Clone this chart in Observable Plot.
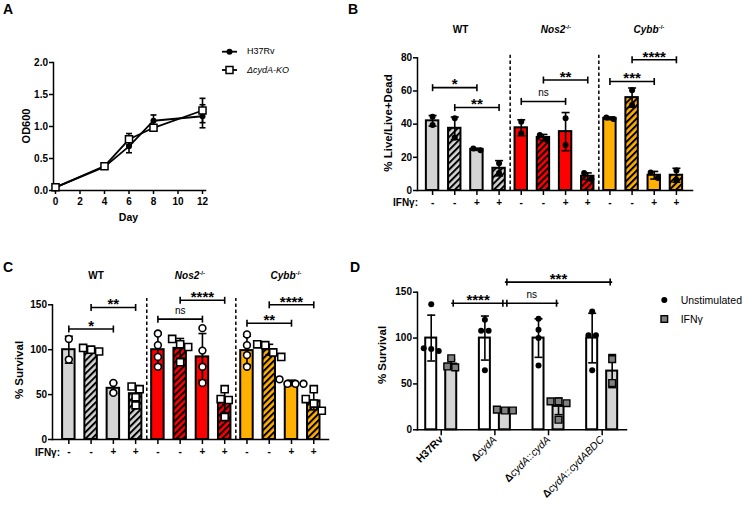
<!DOCTYPE html>
<html>
<head>
<meta charset="utf-8">
<script src="https://cdn.jsdelivr.net/npm/d3@7"></script>
<script src="https://cdn.jsdelivr.net/npm/@observablehq/plot@0.6"></script>
<style>
html,body{margin:0;padding:0;background:#fff;}
#fig{position:relative;width:745px;height:506px;overflow:hidden;font-family:"Liberation Sans",Arial,Helvetica,sans-serif;color:#000;}
#fig svg{position:absolute;}
.lbl{position:absolute;white-space:nowrap;}
.lbl sup{font-size:0.62em;position:relative;top:-0.55em;vertical-align:baseline;line-height:0;}
</style>
</head>
<body>
<div id="fig"></div>
<script>
// ---------------- DATA ----------------
// Panel A: growth curve
const daysA = [0, 4, 6, 8, 12];
const h37rvOD = [0.05, 0.37, 0.69, 1.09, 1.16];
const h37rvSD = [0.02, 0.03, 0.10, 0.09, 0.18];
const cydKoOD = [0.05, 0.38, 0.80, 0.98, 1.25];
const cydKoSD = [0.02, 0.03, 0.09, 0.03, 0.19];
const dayTicks = [0, 2, 4, 6, 8, 10, 12];
const odTicks = [0, 0.5, 1, 1.5, 2];

// Panels B & C: 12 bars (host x strain x IFNg)
const hostGroups = ["WT", "Nos2", "Cybb"];
const barHost = ["WT","WT","WT","WT","Nos2","Nos2","Nos2","Nos2","Cybb","Cybb","Cybb","Cybb"];
const barStrain = ["H37Rv","ΔcydA","H37Rv","ΔcydA","H37Rv","ΔcydA","H37Rv","ΔcydA","H37Rv","ΔcydA","H37Rv","ΔcydA"];
const barIFNg = ["-","-","+","+","-","-","+","+","-","-","+","+"];

// Panel B: % Live/Live+Dead
const liveMean = [42, 37.5, 24.8, 13.4, 37.8, 32, 35.5, 8.6, 43.5, 56, 9.2, 9.2];
const liveSD = [3.2, 6.8, 0.6, 4.6, 4.8, 1.8, 11.5, 2, 0.8, 5.8, 2.3, 4.2];
const livePts = [[44.5,39.5],[43.5,32],[24.3,25.3],[16.5,10.5],[41.5,34.5],[33.5,30.5],[43.5,27.5],[10.5,6.8],[44,43.1],[60.5,51.5],[10.8,7.5],[12,6.5]];
const liveTicks = [0, 20, 40, 60, 80];
const liveSigFrom = [0, 1, 4, 5, 8, 9];
const liveSigTo = [2, 3, 6, 7, 10, 11];
const liveSigY = [62, 50, 53.7, 66.6, 65.7, 78.8];
const liveSigLabel = ["*", "**", "ns", "**", "***", "****"];

// Panel C: % Survival
const survMean = [100, 100, 57, 51, 100, 101.5, 92, 42.5, 99, 100, 63, 43];
const survSD = [15, 2, 6, 9, 17, 11, 26, 13, 16, 6, 3, 10];
const survPts = [[112,89],[98,100,102],[63,52],[59,56,47,38],[118,105,92,81],[112,106,103,86],[124,99,81,63],[56,45,44,25],[117,105,94,81],[105,106,97,92],[67,62,62,62],[56,45,40,32]];
const survTicks = [0, 50, 100, 150];
const survSigFrom = [0, 1, 4, 5, 8, 9];
const survSigTo = [2, 3, 6, 7, 10, 11];
const survSigY = [123, 147, 134, 155, 129.5, 150];
const survSigLabel = ["*", "**", "ns", "****", "**", "****"];

// Panel D
const strainsD = ["H37Rv", "ΔcydA", "ΔcydA::cydA", "ΔcydA::cydABDC"];
const unstimMean = [100, 100, 100, 100];
const unstimSD = [25, 24, 21, 27];
const unstimPts = [[137,89,88,86],[120,108,108,65],[121,109,100,70],[129,103,103,65]];
const ifngMean = [71.7, 21.5, 25.5, 64];
const ifngSD = [5, 1.5, 9, 18];
const ifngPts = [[78,69,68],[22,21,21],[31,31,29,11],[77,51]];
const dSigFrom = ["H37Rv", "ΔcydA", "ΔcydA"];
const dSigTo = ["ΔcydA", "ΔcydA::cydA", "ΔcydA::cydABDC"];
const dSigY = [138, 138, 161];
const dSigLabel = ["****", "ns", "***"];

// ---------------- STYLE ----------------
const FONT = '"Liberation Sans", Arial, Helvetica, sans-serif';
const ink = "#000";
const hostColor = {WT: "#d4d4d4", Nos2: "#ff0000", Cybb: "#ffb000"};
const baseStyle = {fontFamily: FONT, fontSize: "10px", fontWeight: "bold", background: "transparent", overflow: "visible", color: "#000"};
const fig = document.getElementById("fig");

const hline = {draw(ctx, size) { const r = Math.sqrt(size / Math.PI); ctx.moveTo(-r, 0); ctx.lineTo(r, 0); }};
const vline = {draw(ctx, size) { const r = Math.sqrt(size / Math.PI); ctx.moveTo(0, -r); ctx.lineTo(0, r); }};

function place(svg, left, top) { svg.style.left = left + "px"; svg.style.top = top + "px"; fig.appendChild(svg); }

function label(html, x, baseline, o = {}) {
  const size = o.size || 10;
  const d = document.createElement("div");
  d.className = "lbl";
  d.innerHTML = html;
  d.style.fontSize = size + "px";
  d.style.lineHeight = size + "px";
  d.style.fontWeight = o.weight || "bold";
  if (o.italic) d.style.fontStyle = "italic";
  d.style.left = x + "px";
  d.style.top = (baseline - 0.8465 * size) + "px";
  if (o.anchor === "middle") d.style.transform = "translateX(-50%)";
  if (o.anchor === "end") d.style.transform = "translateX(-100%)";
  fig.appendChild(d);
}
function vlabel(text, cx, cy, size) {
  const d = document.createElement("div");
  d.className = "lbl";
  d.textContent = text;
  d.style.fontSize = size + "px";
  d.style.lineHeight = size + "px";
  d.style.fontWeight = "bold";
  d.style.left = cx + "px";
  d.style.top = cy + "px";
  d.style.transform = "translate(-50%,-50%) rotate(-90deg)";
  fig.appendChild(d);
}
function addHatch(svg, id, color) {
  let defs = d3.select(svg).select("defs");
  if (defs.empty()) defs = d3.select(svg).insert("defs", ":first-child");
  const p = defs.append("pattern").attr("id", id).attr("patternUnits", "userSpaceOnUse")
    .attr("width", 4.6).attr("height", 4.6).attr("patternTransform", "rotate(45)");
  p.append("rect").attr("width", 4.6).attr("height", 4.6).attr("fill", color);
  p.append("line").attr("x1", 1).attr("y1", -1).attr("x2", 1).attr("y2", 6).attr("stroke", "#000").attr("stroke-width", 2);
}
// horizontal spread of replicate points that would overlap (like GraphPad scatter)
function spreadOffsets(vals, pxPerUnit, spacing) {
  const idx = vals.map((v, i) => i).sort((a, b) => vals[b] - vals[a]);
  const off = new Array(vals.length).fill(0);
  let cluster = [idx[0]];
  const flush = () => { const n = cluster.length; cluster.forEach((k, j) => off[k] = (j - (n - 1) / 2) * spacing); };
  for (let m = 1; m < idx.length; m++) {
    if ((vals[idx[m - 1]] - vals[idx[m]]) * pxPerUnit < spacing * 0.9) cluster.push(idx[m]);
    else { flush(); cluster = [idx[m]]; }
  }
  flush();
  return off;
}
function errMarks(data, {x, dx = 0, cap = 4}) {
  const lo = d => d.mean - d.sd, hi = d => d.mean + d.sd;
  return [
    Plot.ruleX(data, {x, y1: lo, y2: hi, stroke: ink, strokeWidth: 1.6, dx}),
    Plot.dot(data, {x, y: lo, symbol: hline, r: cap, stroke: ink, strokeWidth: 1.6, fill: "none", dx}),
    Plot.dot(data, {x, y: hi, symbol: hline, r: cap, stroke: ink, strokeWidth: 1.6, fill: "none", dx})
  ];
}
function pointMarks(pts, {x, baseDx = 0, symbolOf, r, fill, stroke, strokeWidth}) {
  const offs = Array.from(new Set(pts.map(p => p.off)));
  return offs.map(o => Plot.dot(pts.filter(p => p.off === o), {
    x, y: "v", dx: baseDx + o, r, symbol: symbolOf, fill, stroke, strokeWidth
  }));
}

// ---------------- PANEL A ----------------
const rowsH = daysA.map((d, i) => ({day: d, mean: h37rvOD[i], sd: h37rvSD[i]}));
const rowsK = daysA.map((d, i) => ({day: d, mean: cydKoOD[i], sd: cydKoSD[i]}));
const plotA = Plot.plot({
  width: 370, height: 230, marginLeft: 53, marginRight: 165, marginTop: 62, marginBottom: 40,
  style: baseStyle,
  x: {domain: [0, 12], range: [55, 202]},
  y: {domain: [0, 2]},
  marks: [
    Plot.axisY({ticks: odTicks, tickFormat: d3.format(".1f"), tickSize: 4, tickPadding: 1.5, strokeWidth: 1.5, label: null}),
    Plot.axisX({ticks: dayTicks, tickSize: 4, tickPadding: 3, strokeWidth: 1.5, label: null}),
    Plot.frame({anchor: "left", strokeWidth: 1.5}),
    Plot.frame({anchor: "bottom", strokeWidth: 1.5}),
    ...errMarks(rowsH, {x: "day", cap: 3}),
    ...errMarks(rowsK, {x: "day", cap: 3}),
    Plot.line(rowsH, {x: "day", y: "mean", stroke: ink, strokeWidth: 1.8}),
    Plot.line(rowsK, {x: "day", y: "mean", stroke: ink, strokeWidth: 1.8}),
    Plot.dot(rowsH, {x: "day", y: "mean", r: 3, fill: ink}),
    Plot.dot(rowsK, {x: "day", y: "mean", symbol: "square", r: 4, fill: "white", stroke: ink, strokeWidth: 1.5})
  ]
});
place(plotA, 0, 0);

// ---------------- PANELS B & C ----------------
function barPanel({prefix, mean, sd, pts, ticks, yMax, sepTop, sigFrom, sigTo, sigY, sigLabel,
                   width, height, mL, mR, mT, mB, range, open}) {
  const n = mean.length;
  const step = (range[1] - range[0]) / n;
  const pxPerUnit = (height - mT - mB) / yMax;
  const bars = d3.range(n).map(i => ({
    i, mean: mean[i], sd: sd[i], host: barHost[i], strain: barStrain[i],
    fill: barStrain[i] === "H37Rv" ? hostColor[barHost[i]] : `url(#${prefix}-${barHost[i]})`
  }));
  const r = open ? 3.4 : 3;
  const points = bars.flatMap(b => {
    const offs = spreadOffsets(pts[b.i], pxPerUnit, 2 * r + 1.2);
    return pts[b.i].map((v, k) => ({i: b.i, v, off: offs[k], strain: b.strain}));
  });
  const sig = sigFrom.map((a, k) => ({a, b: sigTo[k], y: sigY[k], label: sigLabel[k], mid: (a + sigTo[k]) / 2}));
  const ends = sig.flatMap(s => [{x: s.a, y: s.y}, {x: s.b, y: s.y}]);
  const seps = hostGroups.slice(0, -1).map(h => ({after: barHost.lastIndexOf(h)}));
  const pMarks = open
    ? [...pointMarks(points.filter(p => p.strain === "H37Rv"), {x: "i", r: 3.4, symbolOf: "circle", fill: "white", stroke: ink, strokeWidth: 1.6}),
       ...pointMarks(points.filter(p => p.strain !== "H37Rv"), {x: "i", r: 4, symbolOf: "square", fill: "white", stroke: ink, strokeWidth: 1.6})]
    : pointMarks(points, {x: "i", r: 3, symbolOf: "circle", fill: ink});
  const svg = Plot.plot({
    width, height, marginLeft: mL, marginRight: mR, marginTop: mT, marginBottom: mB,
    style: baseStyle,
    x: {type: "band", domain: d3.range(n), range, paddingInner: 0.44, paddingOuter: 0.22, align: 0.5, round: false},
    y: {domain: [0, yMax]},
    color: {type: "identity"},
    marks: [
      Plot.axisY({ticks, tickSize: 4, tickPadding: 1.5, strokeWidth: 1.5, label: null}),
      Plot.axisX({tickSize: 5, tickPadding: 3, strokeWidth: 1.5, tickFormat: i => barIFNg[i], label: null}),
      Plot.ruleX(seps, {x: "after", dx: step / 2, y1: 0, y2: sepTop, stroke: ink, strokeWidth: 1.5, strokeDasharray: "3.5,2.5"}),
      Plot.barY(bars, {x: "i", y: "mean", fill: "fill", stroke: ink, strokeWidth: 2}),
      ...errMarks(bars, {x: "i", cap: 4}),
      ...pMarks,
      Plot.frame({anchor: "left", strokeWidth: 1.5}),
      Plot.frame({anchor: "bottom", strokeWidth: 1.5}),
      Plot.link(sig, {x1: "a", x2: "b", y1: "y", y2: "y", stroke: ink, strokeWidth: 1.6}),
      Plot.dot(ends, {x: "x", y: "y", symbol: vline, r: 3.5, stroke: ink, strokeWidth: 1.6, fill: "none"}),
      Plot.text(sig.filter(s => s.label !== "ns"), {x: "mid", y: "y", text: "label", fontSize: 15, fontWeight: "bold", dy: -3, fill: ink}),
      Plot.text(sig.filter(s => s.label === "ns"), {x: "mid", y: "y", text: "label", fontSize: 10, fontWeight: "normal", dy: -8.5, fill: ink})
    ]
  });
  hostGroups.forEach(h => addHatch(svg, `${prefix}-${h}`, hostColor[h]));
  return svg;
}

const plotB = barPanel({prefix: "hB", mean: liveMean, sd: liveSD, pts: livePts, ticks: liveTicks, yMax: 80, sepTop: 81.5,
  sigFrom: liveSigFrom, sigTo: liveSigTo, sigY: liveSigY, sigLabel: liveSigLabel,
  width: 375, height: 230, mL: 47, mR: 53, mT: 57.3, mB: 40, range: [51, 317], open: false});
place(plotB, 370, 0);

const plotC = barPanel({prefix: "hC", mean: survMean, sd: survSD, pts: survPts, ticks: survTicks, yMax: 150, sepTop: 157,
  sigFrom: survSigFrom, sigTo: survSigTo, sigY: survSigY, sigLabel: survSigLabel,
  width: 370, height: 276, mL: 52, mR: 42, mT: 74.3, mB: 67, range: [57.2, 324.4], open: true});
place(plotC, 0, 230);

// ---------------- PANEL D ----------------
const rangeD = [43.9, 258.5];
const stepD = (rangeD[1] - rangeD[0]) / strainsD.length;
const insD = (stepD - 11) / 2;
const pxD = (276 - 61.7 - 76.7) / 150;
const rowsU = strainsD.map((s, i) => ({strain: s, mean: unstimMean[i], sd: unstimSD[i]}));
const rowsI = strainsD.map((s, i) => ({strain: s, mean: ifngMean[i], sd: ifngSD[i]}));
const ptsU = strainsD.flatMap((s, i) => { const o = spreadOffsets(unstimPts[i], pxD, 7.5); return unstimPts[i].map((v, k) => ({strain: s, v, off: o[k]})); });
const ptsI = strainsD.flatMap((s, i) => { const o = spreadOffsets(ifngPts[i], pxD, 8); return ifngPts[i].map((v, k) => ({strain: s, v, off: o[k]})); });
const sigD = dSigFrom.map((a, k) => ({a, b: dSigTo[k], y: dSigY[k], label: dSigLabel[k]}));
const endsD = sigD.flatMap(s => [{x: s.a, y: s.y, side: 1}, {x: s.b, y: s.y, side: -1}]);

const plotD = Plot.plot({
  width: 375, height: 276, marginLeft: 47, marginRight: 119, marginTop: 61.7, marginBottom: 76.7,
  style: baseStyle,
  x: {type: "band", domain: strainsD, range: rangeD, padding: 0, round: false},
  y: {domain: [0, 150]},
  marks: [
    Plot.axisY({ticks: survTicks, tickSize: 4, tickPadding: 1.5, strokeWidth: 1.5, label: null}),
    Plot.axisX({tickSize: 6, tickPadding: 2, tickRotate: -45, strokeWidth: 1.5, label: null}),
    Plot.barY(rowsU, {x: "strain", y: "mean", fill: "white", stroke: ink, strokeWidth: 2, dx: -10, insetLeft: insD, insetRight: insD}),
    Plot.barY(rowsI, {x: "strain", y: "mean", fill: "#d4d4d4", stroke: ink, strokeWidth: 2, dx: 10, insetLeft: insD, insetRight: insD}),
    ...errMarks(rowsU, {x: "strain", dx: -10, cap: 4}),
    ...errMarks(rowsI, {x: "strain", dx: 10, cap: 4}),
    ...pointMarks(ptsU, {x: "strain", baseDx: -10, r: 3, symbolOf: "circle", fill: ink}),
    ...pointMarks(ptsI, {x: "strain", baseDx: 10, r: 3.8, symbolOf: "square", fill: "#808080", stroke: ink, strokeWidth: 1.4}),
    Plot.frame({anchor: "left", strokeWidth: 1.5}),
    Plot.frame({anchor: "bottom", strokeWidth: 1.5}),
    Plot.link(sigD, {x1: "a", x2: "b", y1: "y", y2: "y", dx: 10, stroke: ink, strokeWidth: 1.6}),
    Plot.dot(endsD.filter(e => e.side === 1), {x: "x", y: "y", dx: 12, symbol: vline, r: 3.5, stroke: ink, strokeWidth: 1.6, fill: "none"}),
    Plot.dot(endsD.filter(e => e.side === -1), {x: "x", y: "y", dx: 8, symbol: vline, r: 3.5, stroke: ink, strokeWidth: 1.6, fill: "none"}),
    ...sigD.map(s => Plot.text([s], {
      x: "a", y: "y", text: "label",
      dx: 10 + (strainsD.indexOf(s.b) - strainsD.indexOf(s.a)) * stepD / 2,
      dy: s.label === "ns" ? -8.5 : -3,
      fontSize: s.label === "ns" ? 10 : 15, fontWeight: s.label === "ns" ? "normal" : "bold", fill: ink
    }))
  ]
});
function richStrain(s) {
  if (s === "H37Rv") return '<tspan font-weight="bold">H37Rv</tspan>';
  return s.replace(/Δ/, '<tspan font-weight="bold">Δ</tspan>')
          .replace(/cyd[A-Z]+/g, m => `<tspan font-style="italic">${m}</tspan>`);
}
d3.select(plotD).selectAll('g[aria-label="x-axis tick label"]')
  .attr("font-weight", "normal").attr("font-size", "10.5px")
  .selectAll("text").each(function(d, i) { this.innerHTML = richStrain(strainsD[i]); });
place(plotD, 370, 230);

// ---------------- LEGENDS (symbols) ----------------
const leg = d3.create("svg").attr("width", 745).attr("height", 506).style("left", "0px").style("top", "0px").style("pointer-events", "none");
// Panel A legend
leg.append("line").attr("x1", 222).attr("x2", 237).attr("y1", 51.7).attr("y2", 51.7).attr("stroke", ink).attr("stroke-width", 1.8);
leg.append("circle").attr("cx", 229.5).attr("cy", 51.7).attr("r", 3).attr("fill", ink);
leg.append("line").attr("x1", 222).attr("x2", 237).attr("y1", 70).attr("y2", 70).attr("stroke", ink).attr("stroke-width", 1.8);
leg.append("rect").attr("x", 226).attr("y", 66.5).attr("width", 7).attr("height", 7).attr("fill", "white").attr("stroke", ink).attr("stroke-width", 1.5);
// Panel D legend
leg.append("circle").attr("cx", 664.3).attr("cy", 300).attr("r", 3).attr("fill", ink);
leg.append("rect").attr("x", 661).attr("y", 315.7).attr("width", 6.6).attr("height", 6.6).attr("fill", "#808080").attr("stroke", ink).attr("stroke-width", 1.4);
fig.appendChild(leg.node());

// ---------------- TEXT LABELS ----------------
label("A", 3, 13.5, {size: 14});
label("B", 348, 13.5, {size: 14});
label("C", 3, 271.5, {size: 14});
label("D", 350, 271.5, {size: 14});

label("H37Rv", 247, 55, {size: 9, weight: "normal"});
label("ΔcydA-KO", 247, 73.3, {size: 9, weight: "normal", italic: true});
label("Day", 128.5, 221, {size: 10.5, anchor: "middle"});
vlabel("OD600", 26, 126, 11);

const titleHTML = {WT: "WT", Nos2: "<i>Nos2</i><sup>-/-</sup>", Cybb: "<i>Cybb</i><sup>-/-</sup>"};
[460.5, 556, 649].forEach((x, k) => label(titleHTML[hostGroups[k]], x, 33.3, {size: 10, anchor: "middle"}));
[96, 190, 286].forEach((x, k) => label(titleHTML[hostGroups[k]], x, 279.3, {size: 10, anchor: "middle"}));
label("IFNγ:", 418, 206.5, {size: 10, anchor: "end"});
label("IFNγ:", 60, 456.5, {size: 10, anchor: "end"});
vlabel("% Live/Live+Dead", 388.5, 123, 11.5);
vlabel("% Survival", 19.5, 370, 11.5);
vlabel("% Survival", 382.5, 355, 11.5);

label("Unstimulated", 680.7, 304, {size: 10.5, weight: "normal"});
label("IFNγ", 680.7, 323, {size: 10.5, weight: "normal"});
</script>
</body>
</html>
